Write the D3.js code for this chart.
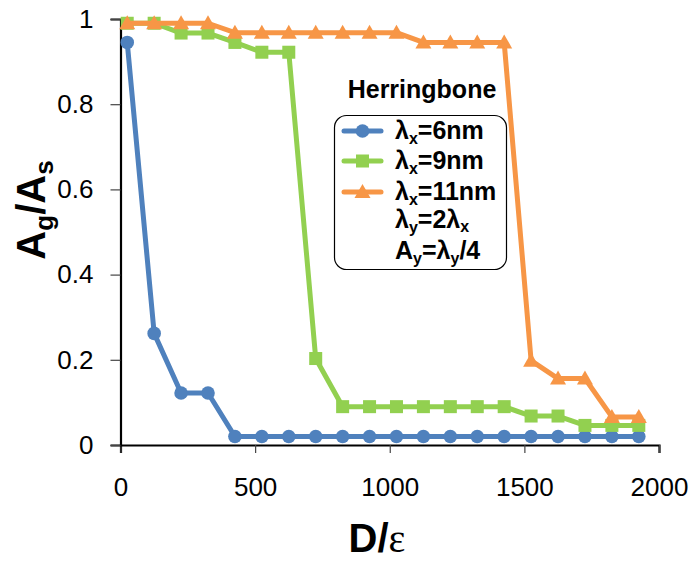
<!DOCTYPE html>
<html>
<head>
<meta charset="utf-8">
<script src="https://cdn.jsdelivr.net/npm/d3@7/dist/d3.min.js"></script>
<style>
  html, body { margin: 0; padding: 0; background: #fff; }
  svg { display: block; font-family: "Liberation Sans", Arial, sans-serif; }
</style>
</head>
<body>
<svg id="chart" width="694" height="562"></svg>
<script>
// Adsorption ratio vs. D/ε for herringbone substrates
const dValues = [25, 125, 225, 325, 425, 525, 625, 725, 825, 925,
                 1025, 1125, 1225, 1325, 1425, 1525, 1625, 1725, 1825, 1925];
const ratio6nm  = [0.945, 0.262, 0.122, 0.122, 0.02, 0.02, 0.02, 0.02, 0.02, 0.02,
                   0.02, 0.02, 0.02, 0.02, 0.02, 0.02, 0.02, 0.02, 0.02, 0.02];
const ratio9nm  = [0.99, 0.99, 0.967, 0.967, 0.945, 0.922, 0.922, 0.203, 0.09, 0.09,
                   0.09, 0.09, 0.09, 0.09, 0.09, 0.068, 0.068, 0.046, 0.046, 0.046];
const ratio11nm = [0.99, 0.99, 0.99, 0.99, 0.968, 0.968, 0.968, 0.968, 0.968, 0.968,
                   0.968, 0.945, 0.945, 0.945, 0.945, 0.198, 0.156, 0.156, 0.066, 0.066];
const seriesNames = ["6nm", "9nm", "11nm"];
const seriesColors = ["#4F81BD", "#92D050", "#F79646"];
const seriesMarkers = ["circle", "square", "triangle"];
const xTicks = [0, 500, 1000, 1500, 2000];
const yTicks = [0, 0.2, 0.4, 0.6, 0.8, 1];

const svg = d3.select("#chart");
const x = d3.scaleLinear().domain([0, 2000]).range([120.5, 659]);
const y = d3.scaleLinear().domain([0, 1]).range([445, 19]);

const seriesData = [ratio6nm, ratio9nm, ratio11nm].map((vals, i) => ({
  name: seriesNames[i], color: seriesColors[i], marker: seriesMarkers[i],
  points: vals.map((v, j) => ({ d: dValues[j], v }))
}));

// Axes
const xAxis = svg.append("g").attr("transform", `translate(0,${y(0)})`)
  .call(d3.axisBottom(x).tickValues(xTicks).tickSize(8).tickPadding(25).tickFormat(d3.format("d")));
const yAxis = svg.append("g").attr("transform", `translate(${x(0)},0)`)
  .call(d3.axisLeft(y).tickValues(yTicks).tickSize(10).tickPadding(17).tickFormat(d => d === 0 || d === 1 ? String(d) : d.toFixed(1)));
[xAxis, yAxis].forEach(ax => {
  ax.select(".domain").attr("stroke", "#000").attr("stroke-width", 2.2);
  ax.selectAll(".tick line").attr("stroke", "#444").attr("stroke-width", 1.2);
  ax.selectAll(".tick text").attr("font-size", 26).attr("fill", "#000")
    .attr("font-family", "'Liberation Sans', Arial, sans-serif");
});

// Marker shapes
function drawMarker(g, type, cx, cy, color) {
  if (type === "circle") {
    g.append("circle").attr("cx", cx).attr("cy", cy).attr("r", 6.8).attr("fill", color);
  } else if (type === "square") {
    g.append("rect").attr("x", cx - 6.5).attr("y", cy - 6.5).attr("width", 13).attr("height", 13).attr("fill", color);
  } else {
    g.append("path").attr("d", `M${cx},${cy - 8}L${cx + 8},${cy + 6}L${cx - 8},${cy + 6}Z`).attr("fill", color);
  }
}

// Series lines and markers
const line = d3.line().x(p => x(p.d)).y(p => y(p.v));
seriesData.forEach(s => {
  const g = svg.append("g");
  g.append("path").datum(s.points).attr("d", line)
    .attr("fill", "none").attr("stroke", s.color).attr("stroke-width", 5)
    .attr("stroke-linejoin", "round");
  s.points.forEach(p => drawMarker(g, s.marker, x(p.d), y(p.v), s.color));
});

// Axis titles
const yTitle = svg.append("text")
  .attr("transform", "translate(45,210) rotate(-90)")
  .attr("text-anchor", "middle").attr("font-weight", "bold").attr("font-size", 40);
yTitle.append("tspan").text("A");
yTitle.append("tspan").attr("font-size", 26).attr("dy", 8).text("g");
yTitle.append("tspan").attr("dy", -8).text("/A");
yTitle.append("tspan").attr("font-size", 26).attr("dy", 8).text("s");

const xTitle = svg.append("text").attr("x", 377).attr("y", 552)
  .attr("text-anchor", "middle").attr("font-size", 40).attr("font-weight", "bold");
xTitle.append("tspan").text("D/");
xTitle.append("tspan").attr("font-weight", "normal").attr("font-family", "'Liberation Serif', serif").text("ε");

// Legend
svg.append("text").attr("x", 422).attr("y", 98).attr("text-anchor", "middle")
  .attr("font-size", 25).attr("font-weight", "bold").text("Herringbone");
svg.append("rect").attr("x", 334.5).attr("y", 115.5).attr("width", 172).attr("height", 154)
  .attr("rx", 12).attr("fill", "#fff").attr("stroke", "#000").attr("stroke-width", 1.2);
const rowY = [131, 161, 192];
seriesData.forEach((s, i) => {
  const g = svg.append("g");
  g.append("line").attr("x1", 344).attr("x2", 381).attr("y1", rowY[i]).attr("y2", rowY[i])
    .attr("stroke", s.color).attr("stroke-width", 5).attr("stroke-linecap", "round");
  drawMarker(g, s.marker, 362.5, rowY[i], s.color);
  const t = g.append("text").attr("x", 395).attr("y", rowY[i] + 8)
    .attr("font-size", 25).attr("font-weight", "bold");
  t.append("tspan").text("λ");
  t.append("tspan").attr("font-size", 16).attr("dy", 5).text("x");
  t.append("tspan").attr("dy", -5).text("=" + s.name);
});
const note1 = svg.append("text").attr("x", 395).attr("y", 228).attr("font-size", 25).attr("font-weight", "bold");
note1.append("tspan").text("λ");
note1.append("tspan").attr("font-size", 16).attr("dy", 5).text("y");
note1.append("tspan").attr("dy", -5).text("=2λ");
note1.append("tspan").attr("font-size", 16).attr("dy", 4).text("x");
const note2 = svg.append("text").attr("x", 395).attr("y", 259).attr("font-size", 25).attr("font-weight", "bold");
note2.append("tspan").text("A");
note2.append("tspan").attr("font-size", 16).attr("dy", 5).text("y");
note2.append("tspan").attr("dy", -5).text("=λ");
note2.append("tspan").attr("font-size", 16).attr("dy", 5).text("y");
note2.append("tspan").attr("dy", -5).text("/4");
</script>
</body>
</html>
